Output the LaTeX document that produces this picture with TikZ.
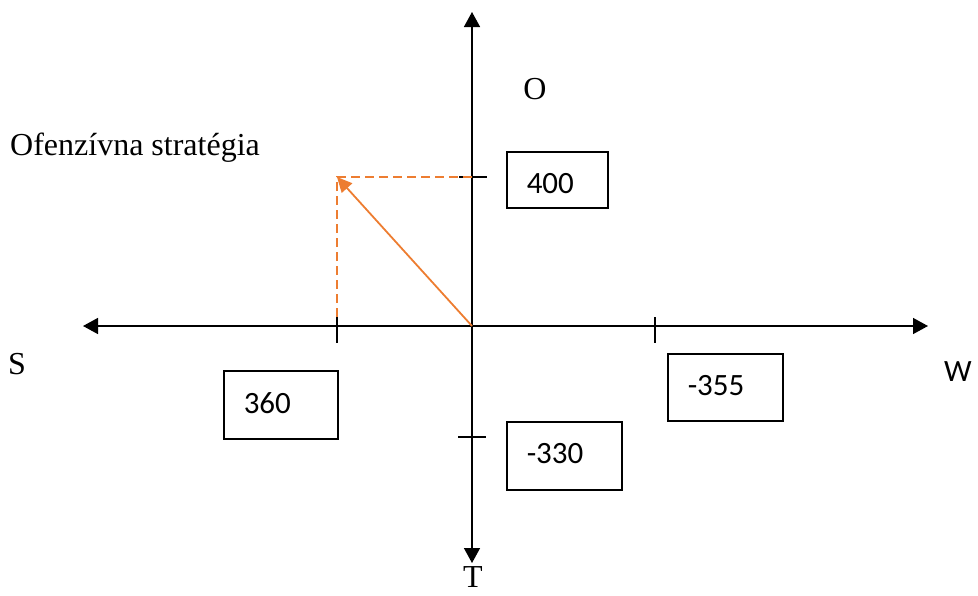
\documentclass[tikz,border=0pt]{standalone}
\usepackage{fontspec}
\setmainfont{Liberation Serif}
\newfontfamily\boxfont{Carlito}
\usetikzlibrary{arrows.meta}
\definecolor{accent}{HTML}{ED7D31}
\begin{document}
\begin{tikzpicture}[x=1pt,y=-1pt,
  axis/.style={line width=1.5pt,{Triangle[length=15pt,width=16pt]}-{Triangle[length=15pt,width=16pt]}},
  tickmark/.style={line width=1.3pt},
  valbox/.style={draw,line width=1.5pt,inner xsep=20pt,inner ysep=0pt,anchor=north west,
    align=left,font=\boxfont\fontsize{31}{37}\selectfont},
  axlabel/.style={font=\fontsize{32}{38}\selectfont,inner sep=0pt,anchor=base},
  proj/.style={accent,line width=1.8pt,dash pattern=on 9pt off 5pt},
  vec/.style={accent,line width=1.8pt,-{Triangle[length=15pt,width=14pt]}}]

\useasboundingbox (0,0) rectangle (978,595);

% axes
\coordinate (orig) at (472,326);
\coordinate (ytop) at (472,12);
\coordinate (ybot) at (472,563);
\coordinate (xleft) at (83,326);
\coordinate (xright) at (928,326);
\draw[axis] (ybot) -- (ytop);
\draw[axis] (xleft) -- (xright);

% tick marks
\coordinate (tS) at (337,326);
\coordinate (tW) at (655,326);
\coordinate (tO) at (472,177);
\coordinate (tT) at (472,437);
\draw[tickmark] (tS) ++(0,-9) -- ++(0,26);
\draw[tickmark] (tW) ++(0,-9) -- ++(0,26);
\draw[tickmark] (tO) ++(-13,0) -- ++(28,0);
\draw[tickmark] (tT) ++(-14,0) -- ++(28,0);

% strategy vector and its projections
\coordinate (pt) at (337,177);
\coordinate (ptfoot) at (337,317);
\draw[proj] (ptfoot) -- (pt) -- (tO);
\draw[vec] (orig) -- (pt);

% value boxes
\node[valbox,text width=61pt,text height=42pt,text depth=14pt] (b400) at (506,151) {400};
\node[valbox,text width=74pt,text height=43pt,text depth=25pt] (b360) at (223,370) {360};
\node[valbox,text width=75pt,text height=42pt,text depth=26pt] (b330) at (506,421) {-330};
\node[valbox,text width=75pt,text height=42pt,text depth=25pt] (b355) at (667,353) {-355};

% axis labels
\node[axlabel] (lO) at (535,99) {O};
\node[axlabel] (lS) at (17,374) {S};
\node[axlabel,font=\boxfont\fontsize{31}{37}\selectfont] (lW) at (958,381) {W};
\node[axlabel] (lT) at (473,587) {T};
\node[axlabel,anchor=base west] (lstrat) at (10,155) {Ofenzívna stratégia};
\end{tikzpicture}
\end{document}
